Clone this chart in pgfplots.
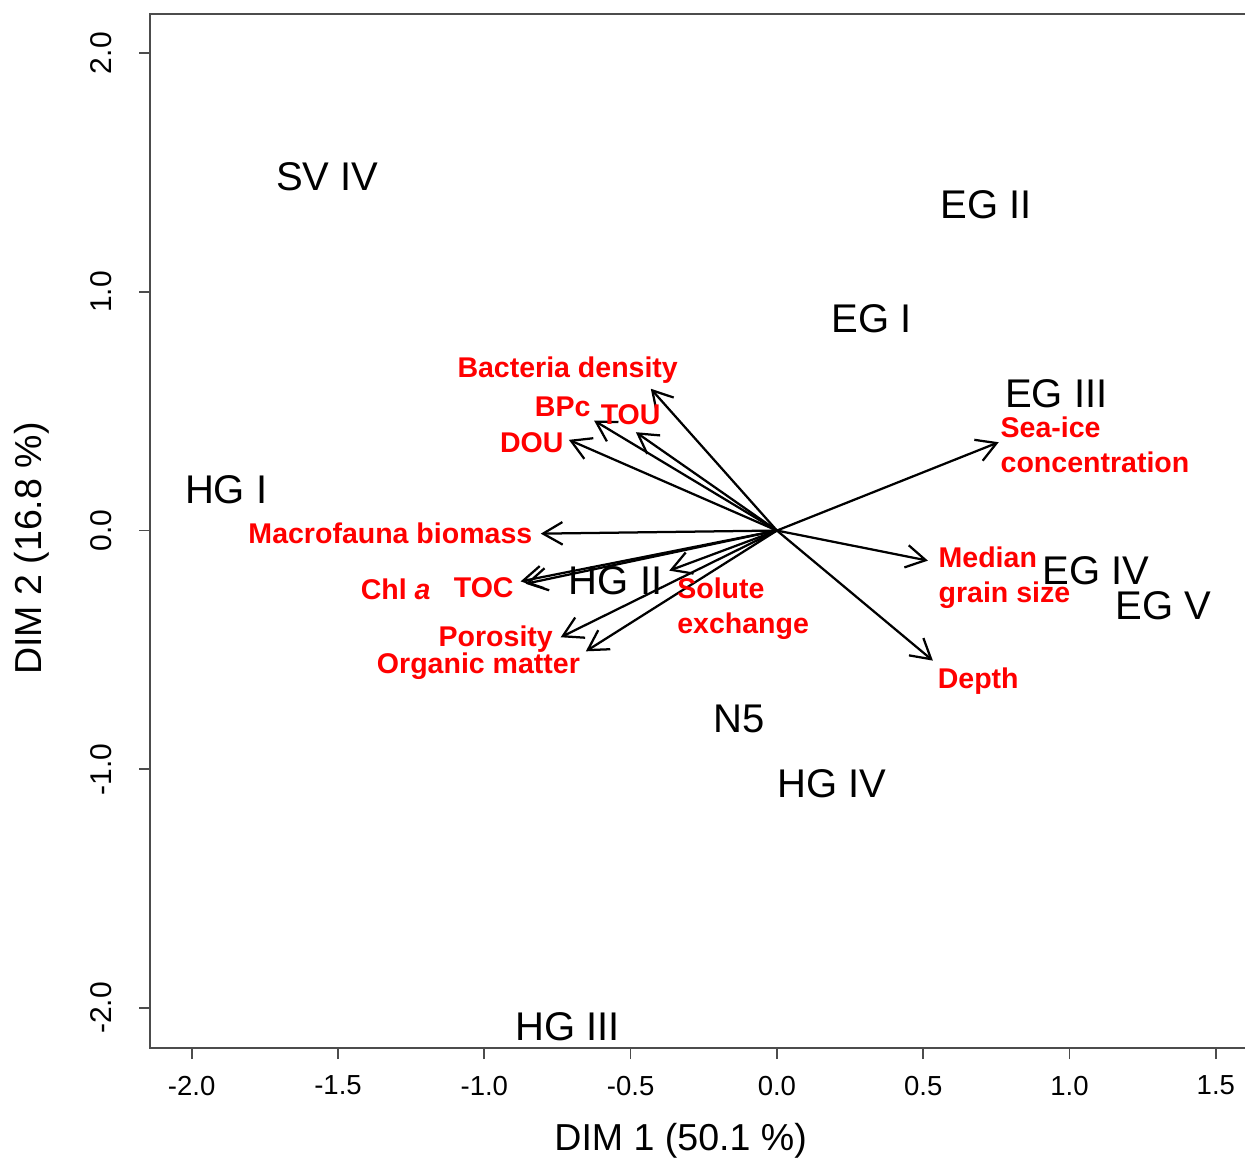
\documentclass[border=0pt]{standalone}
\usepackage{graphicx}
\usepackage{fontspec}
\setmainfont{Liberation Sans}
\usepackage{pgfplots}
\pgfplotsset{compat=1.18}
\usetikzlibrary{arrows.meta}

\begin{document}
\begin{tikzpicture}
\begin{axis}[
  scale only axis, width=438pt, height=413.2pt,
  xmin=-2.142, xmax=1.604, ymin=-2.168, ymax=2.164,
  xtick={-2,-1.5,-1,-0.5,0,0.5,1,1.5}, ytick={-2,-1,0,1,2},
  xtick pos=left, ytick pos=left, tick align=outside, major tick length=4.4pt,
  axis line style={black!70, line width=0.7pt},
  tick style={black!70, line width=0.7pt},
  tick label style={/pgf/number format/assume math mode=true,
    /pgf/number format/fixed, /pgf/number format/fixed zerofill, /pgf/number format/precision=1},
  xticklabel style={font=\fontsize{11}{13}\selectfont},
  yticklabel style={rotate=90, anchor=south, font=\fontsize{12}{14}\selectfont},
  xticklabel shift=3.2pt, yticklabel shift=7.5pt,
  xlabel={DIM 1 (50.1 \%)}, ylabel={DIM 2 (16.8 \%)},
  every axis x label/.style={at={(axis description cs:0.484,-0.0646)}, anchor=north, font=\fontsize{15}{18}\selectfont},
  every axis y label/.style={at={(axis description cs:-0.1078,0.483)}, rotate=90, anchor=center, font=\fontsize{15}{18}\selectfont},
  arr/.style={black, line width=0.9pt, -{Straight Barb[angle=60:9pt, line width=0.9pt]}},
]
% arrows (variable loadings)
\addplot[arr] coordinates {(0,0) (0.758,0.370)};   % Sea-ice concentration
\addplot[arr] coordinates {(0,0) (0.516,-0.126)};  % Median grain size
\addplot[arr] coordinates {(0,0) (0.533,-0.545)};  % Depth
\addplot[arr] coordinates {(0,0) (-0.431,0.594)};  % Bacteria density
\addplot[arr] coordinates {(0,0) (-0.625,0.461)};  % BPc
\addplot[arr] coordinates {(0,0) (-0.482,0.412)};  % TOU
\addplot[arr] coordinates {(0,0) (-0.711,0.380)};  % DOU
\addplot[arr] coordinates {(0,0) (-0.807,-0.013)}; % Macrofauna biomass
\addplot[arr] coordinates {(0,0) (-0.876,-0.213)}; % Chl a
\addplot[arr] coordinates {(0,0) (-0.859,-0.223)}; % TOC
\addplot[arr] coordinates {(0,0) (-0.368,-0.168)}; % Solute exchange
\addplot[arr] coordinates {(0,0) (-0.739,-0.447)}; % Porosity
\addplot[arr] coordinates {(0,0) (-0.653,-0.506)}; % Organic matter

% site labels
\addplot[draw=none, mark=none, nodes near coords, point meta=explicit symbolic,
  nodes near coords style={anchor=center, black, font=\fontsize{16}{18}\selectfont}]
  table[x=x, y=y, meta=label] {
x y label
-1.536 1.484 {SV IV}
0.715 1.367 {EG II}
0.325 0.889 {EG I}
0.955 0.574 {EG III}
-1.882 0.172 {HG I}
1.091 -0.168 {EG IV}
1.321 -0.314 {EG V}
-0.551 -0.210 {HG II}
-0.130 -0.788 {N5}
0.188 -1.061 {HG IV}
-0.715 -2.080 {HG III}
};

% variable labels (centred)
\addplot[draw=none, mark=none, nodes near coords, point meta=explicit symbolic,
  nodes near coords style={anchor=center, red, font=\fontsize{11.4}{14}\selectfont\bfseries}]
  table[x=x, y=y, meta=label] {
x y label
-0.715 0.671 {Bacteria density}
-0.732 0.520 {BPc}
-0.500 0.486 {TOU}
-0.838 0.369 {DOU}
-1.321 -0.013 {Macrofauna biomass}
-1.303 -0.247 {Chl \textit{a}}
-1.002 -0.239 {TOC}
-0.961 -0.453 {Porosity}
-1.020 -0.570 {Organic matter}
0.688 -0.629 {Depth}
};

% variable labels (two lines, left aligned)
\addplot[draw=none, mark=none, nodes near coords, point meta=explicit symbolic,
  nodes near coords style={anchor=west, align=left, inner sep=0pt, red, font=\fontsize{11.4}{14}\selectfont\bfseries}]
  table[x=x, y=y, meta=label] {
x y label
-0.342 -0.327 {Solute\\exchange}
0.763 0.361 {Sea-ice\\concentration}
0.551 -0.197 {Median\\grain size}
};
\end{axis}
\pgfresetboundingbox
\path[use as bounding box] ([xshift=-60pt, yshift=-46.4pt]current axis.south west) rectangle ([xshift=-0.5pt, yshift=5.6pt]current axis.north east);
\end{tikzpicture}
\end{document}
